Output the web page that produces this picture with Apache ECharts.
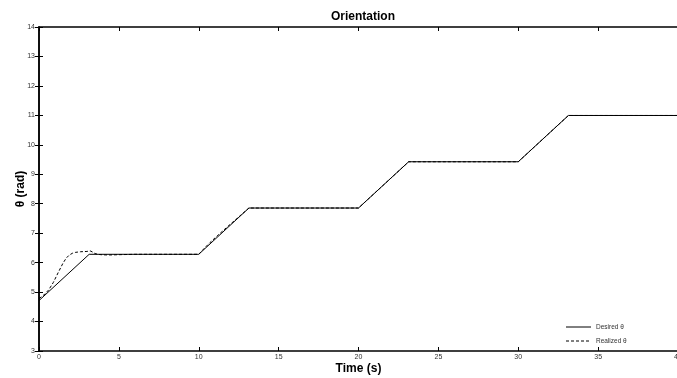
<!DOCTYPE html>
<html>
<head>
<meta charset="utf-8">
<script src="https://cdn.jsdelivr.net/npm/echarts@6/dist/echarts.min.js"></script>
<style>
  html, body { margin: 0; padding: 0; background: #fff; }
  #chart { width: 677px; height: 378px; }
</style>
</head>
<body>
<div id="chart"></div>
<script>
// Desired heading: ramps of pi/2 at 0.5 rad/s, holding between steps
const desiredTime  = [0, 3.14, 10, 13.14, 20, 23.14, 30, 33.14, 40];
const desiredTheta = [4.712, 6.283, 6.283, 7.854, 7.854, 9.425, 9.425, 10.996, 10.996];

// Realized heading: overshoot on the first step, then tracks closely
const realizedTime  = [0, 0.3, 0.6, 0.9, 1.2, 1.5, 1.7, 1.9, 2.1, 2.3, 2.6, 3.0, 3.2, 3.35, 3.5, 3.7, 4.0, 4.4, 5, 6,
                       10, 10.3, 10.7, 11.2, 11.8, 12.5, 13.14, 20, 23.14, 30, 33.14, 40];
const realizedTheta = [4.78, 4.90, 5.07, 5.33, 5.66, 5.98, 6.15, 6.26, 6.32, 6.35, 6.37, 6.38, 6.40, 6.36, 6.31, 6.28, 6.265, 6.26, 6.27, 6.283,
                       6.283, 6.46, 6.68, 6.93, 7.22, 7.55, 7.854, 7.854, 9.425, 9.425, 10.996, 10.996];

const xTicks = [0, 5, 10, 15, 20, 25, 30, 35, 40];
const yTicks = [3, 4, 5, 6, 7, 8, 9, 10, 11, 12, 13, 14];
const legendNames = ['Desired θ', 'Realized θ'];

const pairs = (xs, ys) => xs.map((x, i) => [x, ys[i]]);

const tickLabel = { fontFamily: 'Liberation Sans', fontSize: 7, color: '#333' };
const axisLine = { lineStyle: { color: '#000', width: 1.5 } };
const axisTick = { inside: true, length: 4, lineStyle: { color: '#000', width: 1 } };
const legendText = { fontFamily: 'Liberation Sans', fontSize: 6.5, fill: '#333' };

const chart = echarts.init(document.getElementById('chart'), null, { renderer: 'canvas' });
chart.setOption({
  animation: false,
  backgroundColor: '#fff',
  title: {
    text: 'Orientation',
    left: 358, top: 6, textAlign: 'center',
    textStyle: { fontFamily: 'Liberation Sans', fontSize: 12, fontWeight: 'bold', color: '#000' }
  },
  grid: { left: 39, top: 27, width: 639, height: 324, containLabel: false, outerBoundsMode: 'none' },
  // Frameless legend, bottom right of the plot
  graphic: [
    { type: 'line', shape: { x1: 566, y1: 327, x2: 591, y2: 327 }, style: { stroke: '#000', lineWidth: 1 } },
    { type: 'text', x: 596, y: 327, style: Object.assign({ text: legendNames[0], verticalAlign: 'middle' }, legendText) },
    { type: 'line', shape: { x1: 566, y1: 341, x2: 591, y2: 341 }, style: { stroke: '#000', lineWidth: 1, lineDash: [3, 2] } },
    { type: 'text', x: 596, y: 341, style: Object.assign({ text: legendNames[1], verticalAlign: 'middle' }, legendText) }
  ],
  xAxis: [{
    type: 'value', min: xTicks[0], max: xTicks[xTicks.length - 1], interval: 5,
    name: 'Time (s)', nameLocation: 'middle', nameGap: 12, nameMoveOverlap: false,
    nameTextStyle: { fontFamily: 'Liberation Sans', fontSize: 12, fontWeight: 'bold', color: '#000' },
    axisLine, axisTick, splitLine: { show: false },
    axisLabel: Object.assign({ margin: 3, hideOverlap: false }, tickLabel)
  }, {
    type: 'value', position: 'top', min: xTicks[0], max: xTicks[xTicks.length - 1], interval: 5,
    axisLine, axisTick, splitLine: { show: false }, axisLabel: { show: false }
  }],
  yAxis: [{
    type: 'value', min: yTicks[0], max: yTicks[yTicks.length - 1], interval: 1,
    name: 'θ (rad)', nameLocation: 'middle', nameGap: 12, nameRotate: 90, nameMoveOverlap: false,
    nameTextStyle: { fontFamily: 'Liberation Sans', fontSize: 12, fontWeight: 'bold', color: '#000' },
    axisLine, axisTick, splitLine: { show: false },
    axisLabel: Object.assign({ margin: 4 }, tickLabel)
  }, {
    type: 'value', position: 'right', min: yTicks[0], max: yTicks[yTicks.length - 1], interval: 1,
    axisLine, axisTick, splitLine: { show: false }, axisLabel: { show: false }
  }],
  series: [{
    name: legendNames[0], type: 'line', data: pairs(desiredTime, desiredTheta),
    symbol: 'none', smooth: false,
    lineStyle: { color: '#000', width: 1, type: 'solid' }
  }, {
    name: legendNames[1], type: 'line', data: pairs(realizedTime, realizedTheta),
    symbol: 'none', smooth: false,
    lineStyle: { color: '#000', width: 1, type: [3, 2] }
  }]
});
</script>
</body>
</html>
